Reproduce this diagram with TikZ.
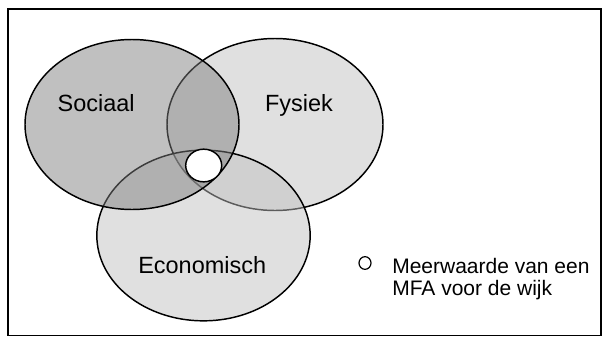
\documentclass[tikz,border=0pt]{standalone}
\usepackage{fontspec}
\setmainfont{Liberation Sans}
\usetikzlibrary{shapes.geometric}
\definecolor{fysfill}{gray}{0.878}
\definecolor{ecofill}{gray}{0.749}
\definecolor{socfill}{gray}{0.49}
\tikzset{
  venn/.style={ellipse, draw=black, line width=1.1pt, inner sep=0pt},
  lbl/.style={inner sep=0pt, anchor=base, font=\fontsize{17.6}{20}\selectfont},
  legtext/.style={inner sep=0pt, anchor=base west, font=\fontsize{15.75}{18}\selectfont},
  dot/.style={ellipse, draw=black, fill=white, line width=1.1pt, inner sep=0pt}
}
\begin{document}
\begin{tikzpicture}[x=0.75pt,y=-0.75pt]
\useasboundingbox (0,0) rectangle (606,336);
\draw[line width=1.1pt] (8,9) rectangle (601,335.5);
% Fysiek
\node[venn, fill=fysfill, minimum width=162pt, minimum height=129pt] (fys) at (275,124.5) {};
% Economisch
\node[venn, fill=ecofill, fill opacity=0.484, minimum width=160pt, minimum height=128pt] (eco) at (203.5,235.5) {};
% Sociaal
\node[venn, fill=socfill, fill opacity=0.484, minimum width=160.5pt, minimum height=127.5pt] (soc) at (132,124.5) {};
% centre
\node[dot, minimum width=27pt, minimum height=24.5pt] (mfa) at (203.7,165.5) {};
% labels
\node[lbl] (lsoc) at (96.2,111.7) {Sociaal};
\node[lbl] (lfys) at (298.9,111.7) {Fysiek};
\node[lbl] (leco) at (202.2,273.3) {Economisch};
% legend
\node[dot, line width=0.9pt, minimum width=9pt, minimum height=9.5pt] (legdot) at (365,263) {};
\node[legtext] (leg1) at (392,273.3) {Meerwaarde van een};
\node[legtext] (leg2) at (392,295.3) {MFA voor de wijk};
\end{tikzpicture}
\end{document}
